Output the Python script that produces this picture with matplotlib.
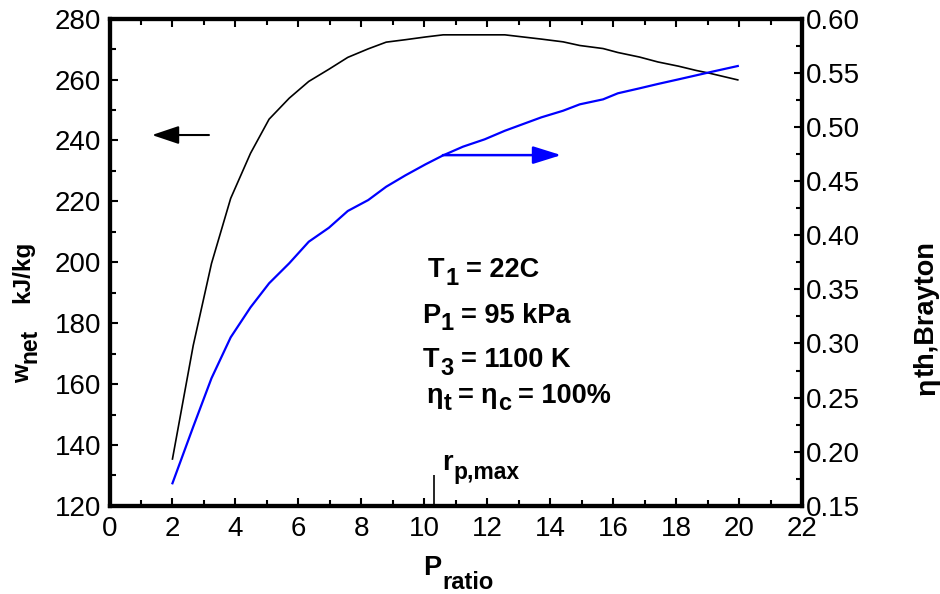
import matplotlib
matplotlib.use("Agg")
import matplotlib.pyplot as plt
from matplotlib.ticker import MultipleLocator, FormatStrFormatter
from matplotlib.transforms import IdentityTransform

plt.rcParams['font.family'] = ['Liberation Sans', 'DejaVu Sans']

# ---- data ----
p_ratio = [2.0, 2.66, 3.24, 3.85, 4.48, 5.07, 5.71, 6.33, 6.97, 7.57, 8.22, 8.79,
           9.40, 10.04, 10.6, 11.23, 11.92, 12.56, 13.14, 13.72, 14.41, 14.94,
           15.68, 16.15, 16.84, 17.42, 18.08, 18.64, 19.06, 19.96]
w_net = [135.4, 172.7, 199.6, 221.0, 235.8, 247.0, 253.9, 259.4, 263.4, 267.3,
         270.1, 272.3, 273.1, 274.0, 274.7, 274.7, 274.7, 274.7, 274.0, 273.3,
         272.4, 271.2, 270.2, 268.9, 267.4, 265.8, 264.4, 263.0, 262.1, 259.9]
eta_th = [0.1709, 0.2231, 0.2679, 0.3057, 0.3334, 0.3556, 0.3741, 0.3940, 0.4069,
          0.4224, 0.4325, 0.4448, 0.4553, 0.4655, 0.4738, 0.4818, 0.4886, 0.4965,
          0.5027, 0.5089, 0.5150, 0.5209, 0.5255, 0.5311, 0.5357, 0.5397, 0.5440,
          0.5477, 0.5505, 0.5563]
rp_max = 10.3
x_ticks = list(range(0, 23, 2))
left_ticks = list(range(120, 281, 20))
right_ticks = [0.15, 0.20, 0.25, 0.30, 0.35, 0.40, 0.45, 0.50, 0.55, 0.60]

W, H = 940, 594
fig = plt.figure(figsize=(9.4, 5.94), dpi=100)
ax = fig.add_axes([109.5 / W, 1 - 505.9 / H, (802 - 109.5) / W, (505.9 - 18.7) / H])
ax2 = ax.twinx()

ax.plot(p_ratio, w_net, color='black', lw=1.2, zorder=3)
ax2.plot(p_ratio, eta_th, color='#0000ff', lw=1.6, zorder=3)

ax.set_xlim(0, 22)
ax.set_ylim(120, 280)
ax2.set_ylim(0.15, 0.60)
ax.set_xticks(x_ticks)
ax.set_yticks(left_ticks)
ax2.set_yticks(right_ticks)
ax2.yaxis.set_major_formatter(FormatStrFormatter('%.2f'))
ax.xaxis.set_minor_locator(MultipleLocator(1))
ax.yaxis.set_minor_locator(MultipleLocator(10))
ax2.yaxis.set_minor_locator(MultipleLocator(0.025))

TICK_FS = 20
for a in (ax, ax2):
    for s in a.spines.values():
        s.set_linewidth(3)
ax.tick_params(which='both', direction='in', top=True, right=False, width=1.5,
               labelsize=TICK_FS, pad=7)
ax.tick_params(which='major', length=6)
ax.tick_params(which='minor', length=4.5)
ax.tick_params(axis='y', pad=6)
ax2.tick_params(which='both', direction='in', width=1.5, labelsize=TICK_FS, pad=3)
ax2.tick_params(which='major', length=6)
ax2.tick_params(which='minor', length=4.5)

renderer = fig.canvas.get_renderer()


def piece_width(txt, size):
    t = fig.text(0, 0, txt, fontsize=size, fontweight='bold')
    w = t.get_window_extent(renderer).width
    t.remove()
    return w


def rich(x, y_top, pieces, rotation=0):
    """pieces: (text, fontsize, drop_px, gap_before_px); x,y in image pixels (top origin)."""
    pos = 0.0
    for txt, size, drop, gap in pieces:
        pos += gap
        if rotation == 0:
            px, py = x + pos, H - (y_top + drop)
        else:
            px, py = x + drop, H - y_top + pos
        fig.text(px, py, txt, fontsize=size, fontweight='bold', ha='left',
                 va='baseline', rotation=rotation, rotation_mode='anchor',
                 transform=IdentityTransform())
        pos += piece_width(txt, size)


MAIN, SUB = 19.5, 17
# parameter texts
rich(428, 276.7, [('T', MAIN, 0, 0), ('1', SUB, 8, 1), ('= 22C', MAIN, 0, 7)])
rich(421.7, 323, [('P', MAIN, 0, 0), ('1', SUB, 7, 1), ('= 95 kPa', MAIN, 0, 7)])
rich(423, 366.7, [('T', MAIN, 0, 0), ('3', SUB, 8, 1), ('= 1100 K', MAIN, 0, 7)])
rich(426.7, 403, [('\u03b7', MAIN, 0, 0), ('t', SUB, 7, 1), ('=', MAIN, 0, 6),
                  ('\u03b7', MAIN, 0, 7), ('c', SUB, 7, 1), ('= 100%', MAIN, 0, 6)])
# r_p,max label
rich(441.7, 470, [('r', MAIN, 0, 0), ('p,max', 16.5, 9, 1)])
# axis labels
rich(423, 575, [('P', MAIN, 0, 0), ('ratio', SUB, 14, 1)])
rich(29, 383, [('w', 17.5, 0, 0), ('net', 16.5, 8, 1), ('kJ/kg', 17.5, 0, 26)], rotation=90)
rich(934, 395, [('\u03b7', 20.5, 0, 0), ('th,Brayton', 19.5, 0, 1)], rotation=90)

# arrows
ax.annotate('', xy=(1.35, 241.8), xytext=(3.16, 241.8),
            arrowprops=dict(arrowstyle='-|>,head_length=1.1,head_width=0.37',
                            color='black', lw=1.5, mutation_scale=15,
                            shrinkA=0, shrinkB=0))
ax2.annotate('', xy=(14.35, 0.474), xytext=(10.59, 0.474),
             arrowprops=dict(arrowstyle='-|>,head_length=1.15,head_width=0.36',
                             color='#0000ff', lw=1.8, mutation_scale=15,
                             shrinkA=0, shrinkB=0))

# r_p,max marker
ax.vlines(rp_max, 120, 130.1, color='black', lw=1.2)

fig.savefig('out.png', dpi=100)
